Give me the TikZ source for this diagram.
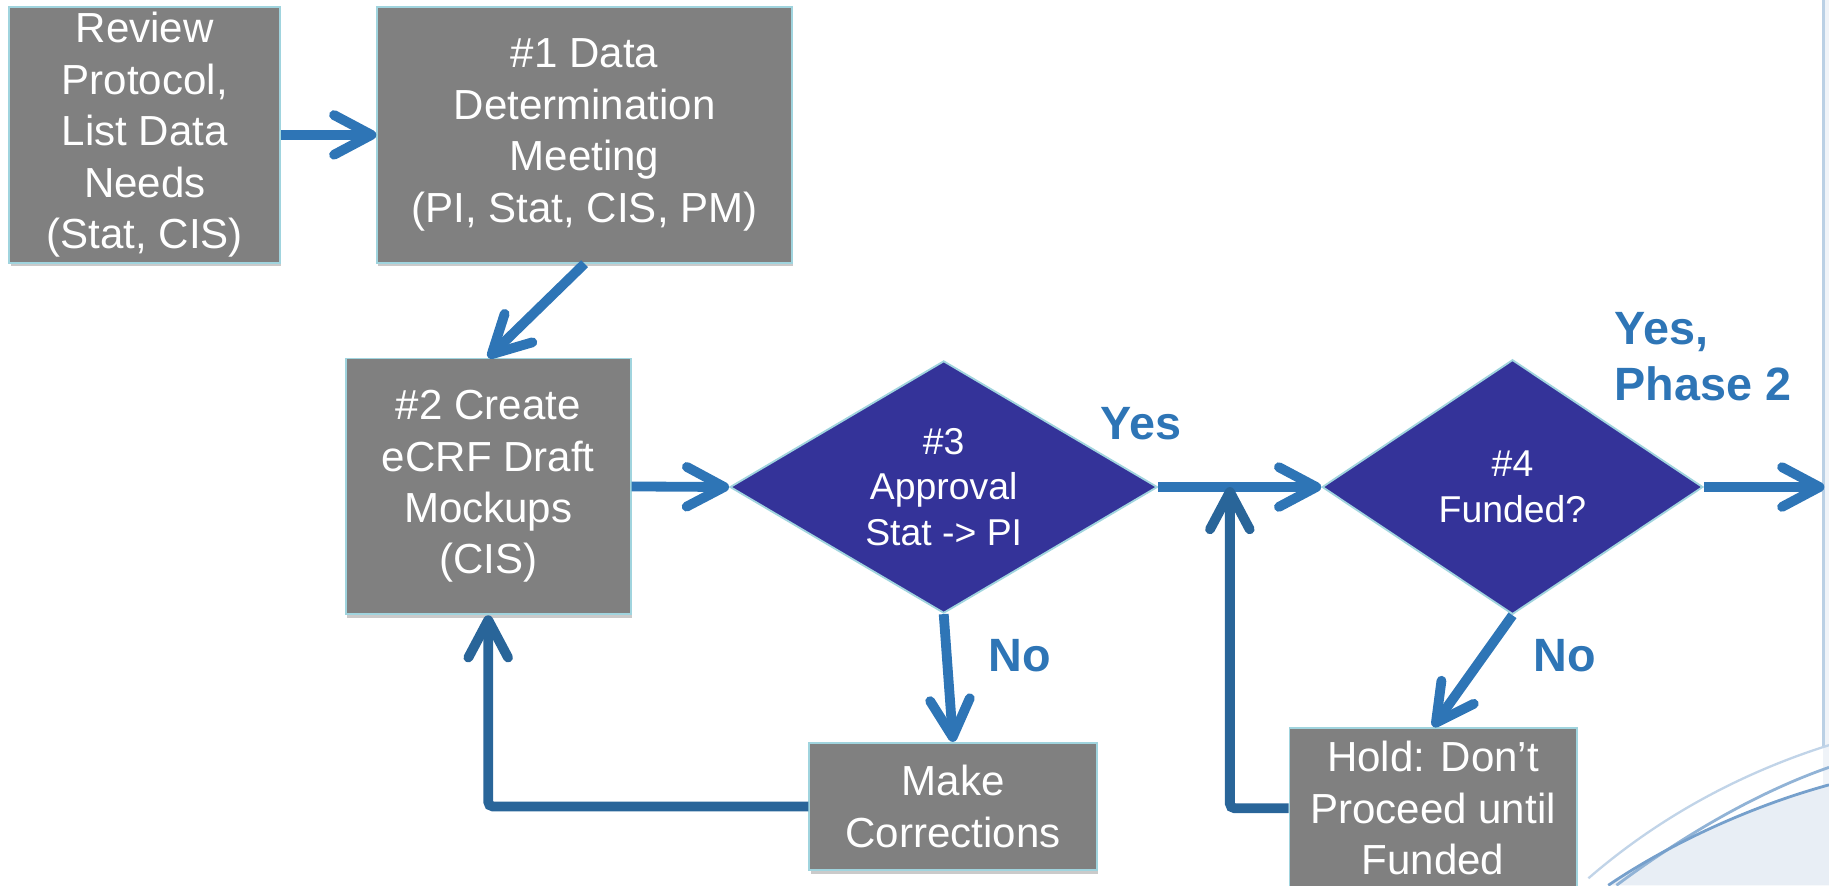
\documentclass[tikz,border=0pt]{standalone}
\usepackage{fontspec}
\setmainfont{Liberation Sans}
\usetikzlibrary{shapes.geometric,arrows.meta,shadows}
\definecolor{boxgray}{RGB}{128,128,128}
\definecolor{boxedge}{RGB}{160,212,222}
\definecolor{decide}{RGB}{52,51,153}
\definecolor{flowblue}{RGB}{46,117,182}
\definecolor{backblue}{RGB}{41,101,153}
\definecolor{swoosh}{RGB}{118,160,204}
\definecolor{paleblue}{RGB}{232,238,245}
\tikzset{
  stepbox/.style  = {shape=rectangle, draw=boxedge, line width=0.8pt,
                     fill=boxgray, text=white, align=center,
                     font=\fontsize{18}{22}\selectfont,
                     drop shadow={shadow xshift=0.5pt, shadow yshift=-1.5pt,
                                  opacity=.35, fill=black!60}},
  decision/.style = {shape=diamond, draw=boxedge, line width=0.8pt,
                     fill=decide, text=white, align=center,
                     font=\fontsize{16}{19.5}\selectfont},
  flow/.style     = {draw=flowblue, line width=4.2pt,
                     -{Straight Barb[length=16pt, width=17pt, round]}},
  back/.style     = {flow, draw=backblue, rounded corners=2pt},
  answer/.style   = {text=flowblue, align=left,
                     font=\bfseries\fontsize{20}{24}\selectfont}
}

\begin{document}
\begin{tikzpicture}
  [
    x                       = 0.5pt,
    y                       = -0.5pt,
    every node/.style       = {inner sep=0pt}
  ]
  \useasboundingbox (0,0) rectangle (1566,758);
  % slide backdrop
  \fill[paleblue!70] (1561,0) rectangle (1566,758);
  \draw[swoosh!50, line width=1.2pt] (1561,0) -- (1561,640);
  \fill[paleblue] (1377,758) .. controls (1430,722) and (1500,690) .. (1566,672)
    -- (1566,758) -- cycle;
  \draw[swoosh!45, line width=1pt] (1360,752) .. controls (1420,700) and (1490,662) .. (1566,638);
  \draw[swoosh!80, line width=1.2pt] (1384,758) .. controls (1435,720) and (1500,680) .. (1566,657);
  \draw[swoosh, line width=1.2pt] (1377,758) .. controls (1430,722) and (1500,690) .. (1566,672);

  \node[stepbox, minimum width=116pt, minimum height=109.5pt] (review) at (124,115.5)
    {Review\\Protocol,\\List Data\\Needs\\(Stat, CIS)};
  \node[stepbox, minimum width=177.5pt, minimum height=109.5pt] (meeting) at (500.5,115.5)
    {\#1 Data\\Determination\\Meeting\\(PI, Stat, CIS, PM)};
  \node[stepbox, minimum width=122pt, minimum height=109.5pt] (mockup) at (418,416.5)
    {\#2 Create\\eCRF Draft\\Mockups\\(CIS)};
  \node[decision, aspect=1.7, minimum width=183pt, minimum height=108pt] (approval) at (808,417)
    {\#3\\Approval\\Stat -> PI};
  \node[decision, aspect=1.5, minimum width=163pt, minimum height=109pt] (funded) at (1295,417)
    {\#4\\Funded?};
  \node[stepbox, minimum width=123pt, minimum height=54.5pt] (fix) at (816,690.5)
    {Make\\Corrections};
  \node[stepbox, minimum width=123pt, minimum height=69pt] (hold) at (1227,692)
    {Hold: Don’t\\Proceed until\\Funded};

  \coordinate (merge) at (1053,417);
  \coordinate (exit) at (1562,417);

  \draw[flow] (review.east) -- (meeting.west);
  \draw[flow] (meeting.south) -- (mockup.north);
  \draw[flow] (mockup.east) -- (approval.west);
  \draw[flow] (approval.east) -- (funded.west);
  \draw[flow] (approval.south) -- (fix.north);
  \draw[flow] (funded.south) -- (hold.north);
  \draw[flow] (funded.east) -- (exit);
  \draw[back] (fix.west) -| (mockup.south);
  \draw[back] (hold.west) -| (merge);

  \node[answer] (yes) at (977,363) {Yes};
  \node[answer] (no) at (873,561) {No};
  \node[answer] (nofund) at (1340,561) {No};
  \node[answer, anchor=west] (phase) at (1382,305) {Yes,\\Phase 2};
\end{tikzpicture}
\end{document}
